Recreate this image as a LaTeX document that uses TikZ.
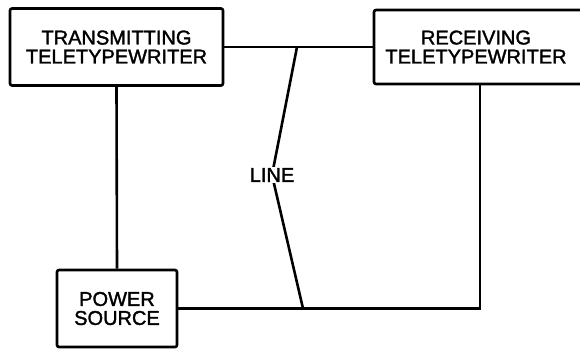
\documentclass[tikz,border=0pt]{standalone}
\usepackage{fontspec}
\setmainfont{Liberation Sans}
\newfontfamily\boxfont[FakeBold=1.6]{Liberation Sans}
\usepackage{tikz}
\usetikzlibrary{positioning}

\begin{document}
\begin{tikzpicture}[x=1pt, y=-1pt, line width=2.6pt,
    unitbox/.style={draw, rounded corners=2pt, align=center, inner sep=0pt,
        font=\boxfont\fontsize{20}{19}\selectfont},
    linelabel/.style={fill=white, inner sep=1pt, font=\boxfont\fontsize{20}{19}\selectfont}]
\useasboundingbox (0,0) rectangle (580,349);
% boxes
\node[unitbox, minimum width=213pt, minimum height=77pt] (trans) at (116.5,47) {TRANSMITTING\\TELETYPEWRITER};
\node[unitbox, minimum width=212pt, minimum height=74pt] (recv) at (480,47) {\hspace*{-8pt}RECEIVING\\\hspace*{-8pt}TELETYPEWRITER};
\node[unitbox, minimum width=120pt, minimum height=77pt] (power) at (117,308.5) {POWER\\SOURCE};
% wiring
\coordinate (ltop) at (297,47);
\coordinate (lbot) at (303,308.5);
\coordinate (kink) at (272,175);
\draw (trans.east) -- (recv.west);
\draw (trans.south) -- (power.north);
\draw (power.east) -| (recv.south);
\draw (ltop) -- (kink) -- (lbot);
\node[linelabel] (line) at (kink) {LINE};
\end{tikzpicture}
\end{document}
